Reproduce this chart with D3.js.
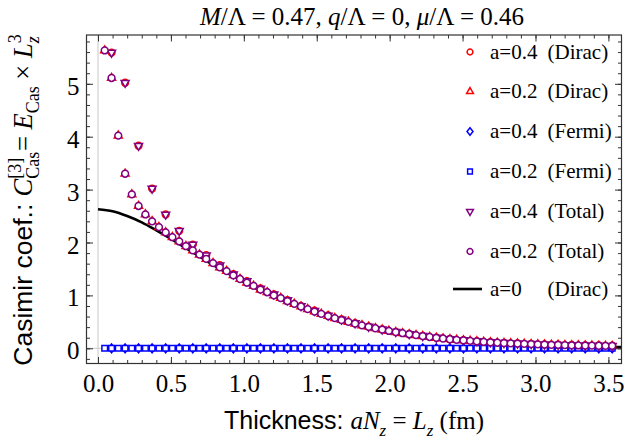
<!DOCTYPE html>
<html>
<head>
<meta charset="utf-8">
<script src="https://cdn.jsdelivr.net/npm/d3@7"></script>
<style>
  body { margin: 0; background: #fff; }
  text { white-space: pre; }
</style>
</head>
<body>
<svg id="chart" width="637" height="441"></svg>
<script>
// lattice thickness L_z = a N_z (fm)
const x02 = [0.046, 0.093, 0.139, 0.186, 0.232, 0.278, 0.325, 0.371, 0.418, 0.464,
  0.510, 0.557, 0.603, 0.650, 0.696, 0.742, 0.789, 0.835, 0.882, 0.928,
  0.974, 1.021, 1.067, 1.114, 1.160, 1.206, 1.253, 1.299, 1.346, 1.392,
  1.438, 1.485, 1.531, 1.578, 1.624, 1.670, 1.717, 1.763, 1.810, 1.856,
  1.902, 1.949, 1.995, 2.042, 2.088, 2.134, 2.181, 2.227, 2.274, 2.320,
  2.366, 2.413, 2.459, 2.506, 2.552, 2.598, 2.645, 2.691, 2.738, 2.784,
  2.830, 2.877, 2.923, 2.970, 3.016, 3.062, 3.109, 3.155, 3.202, 3.248,
  3.294, 3.341, 3.387, 3.434, 3.480, 3.526];
const x04 = [0.093, 0.186, 0.278, 0.371, 0.464, 0.557, 0.650, 0.742, 0.835, 0.928,
  1.021, 1.114, 1.206, 1.299, 1.392, 1.485, 1.578, 1.670, 1.763, 1.856,
  1.949, 2.042, 2.134, 2.227, 2.320, 2.413, 2.506, 2.598, 2.691, 2.784,
  2.877, 2.970, 3.062, 3.155, 3.248, 3.341, 3.434, 3.526];

const total02 = [5.63, 5.11, 4.02, 3.30, 2.91, 2.69, 2.53, 2.40, 2.29, 2.19,
  2.10, 2.02, 1.93, 1.85, 1.77, 1.69, 1.61, 1.53, 1.46, 1.38,
  1.31, 1.24, 1.18, 1.11, 1.06, 1.00, 0.95, 0.89, 0.84, 0.79,
  0.74, 0.695, 0.65, 0.61, 0.57, 0.534, 0.50, 0.466, 0.434, 0.406,
  0.379, 0.353, 0.328, 0.306, 0.285, 0.266, 0.248, 0.230, 0.214, 0.198,
  0.185, 0.171, 0.160, 0.149, 0.140, 0.130, 0.120, 0.112, 0.105, 0.099,
  0.093, 0.088, 0.083, 0.078, 0.074, 0.070, 0.066, 0.063, 0.060, 0.057,
  0.054, 0.052, 0.050, 0.048, 0.046, 0.044];
const total04 = [5.59, 5.02, 3.83, 3.02, 2.53, 2.22, 1.96, 1.76, 1.57, 1.40,
  1.27, 1.13, 1.02, 0.91, 0.80, 0.71, 0.62, 0.544, 0.476, 0.411,
  0.358, 0.311, 0.271, 0.235, 0.203, 0.176, 0.154, 0.135, 0.117, 0.104,
  0.093, 0.083, 0.075, 0.068, 0.062, 0.057, 0.053, 0.049];
// mu < M, so the Fermi part is zero and Dirac equals Total
const dirac02 = total02;
const dirac04 = total04;
const fermi02 = [0, 0, 0, 0, 0, 0, 0, 0, 0, 0, 0, 0, 0, 0, 0, 0, 0, 0, 0, 0,
  0, 0, 0, 0, 0, 0, 0, 0, 0, 0, 0, 0, 0, 0, 0, 0, 0, 0, 0, 0,
  0, 0, 0, 0, 0, 0, 0, 0, 0, 0, 0, 0, 0, 0, 0, 0, 0, 0, 0, 0,
  0, 0, 0, 0, 0, 0, 0, 0, 0, 0, 0, 0, 0, 0, 0, 0];
const fermi04 = [0, 0, 0, 0, 0, 0, 0, 0, 0, 0, 0, 0, 0, 0, 0, 0, 0, 0, 0, 0,
  0, 0, 0, 0, 0, 0, 0, 0, 0, 0, 0, 0, 0, 0, 0, 0, 0, 0];

// continuum a=0 curve
const lineX = [0, 0.1, 0.2, 0.3, 0.4, 0.5, 0.6, 0.7, 0.8, 0.9,
  1.0, 1.1, 1.2, 1.3, 1.4, 1.5, 1.6, 1.7, 1.8, 1.9,
  2.0, 2.1, 2.2, 2.3, 2.4, 2.5, 2.6, 2.7, 2.8, 2.9,
  3.0, 3.1, 3.2, 3.3, 3.4, 3.5, 3.6];
const lineY = [2.63, 2.59, 2.50, 2.38, 2.23, 2.07, 1.90, 1.73, 1.56, 1.40,
  1.25, 1.11, 0.99, 0.87, 0.76, 0.66, 0.57, 0.49, 0.42, 0.36,
  0.305, 0.26, 0.22, 0.185, 0.155, 0.13, 0.11, 0.09, 0.077, 0.065,
  0.055, 0.047, 0.04, 0.034, 0.029, 0.025, 0.021];

const xTicks = [0, 0.5, 1.0, 1.5, 2.0, 2.5, 3.0, 3.5];
const yTicks = [0, 1, 2, 3, 4, 5];
const legendLabels = ['a=0.4', 'a=0.2', 'a=0.4', 'a=0.2', 'a=0.4', 'a=0.2', 'a=0'];
const legendKinds = ['(Dirac)', '(Dirac)', '(Fermi)', '(Fermi)', '(Total)', '(Total)', '(Dirac)'];

const serif = "'Liberation Serif', 'Times New Roman', serif";
const sans = "'Liberation Sans', Arial, sans-serif";

const frame = { left: 86.5, right: 621.5, top: 35, bottom: 363.5 };
const x = d3.scaleLinear().domain([0, 3.5]).range([98, 608.4]);
const y = d3.scaleLinear().domain([0, 5]).range([348.3, 83.8]);

const svg = d3.select('#chart');

svg.append('defs').append('clipPath').attr('id', 'clip')
  .append('rect')
  .attr('x', frame.left).attr('y', frame.top)
  .attr('width', frame.right - frame.left).attr('height', frame.bottom - frame.top);

// axes lines through the origin
svg.append('line')
  .attr('x1', x(0)).attr('x2', x(0)).attr('y1', frame.top).attr('y2', frame.bottom)
  .attr('stroke', '#c8c8c8').attr('stroke-width', 1);
svg.append('line')
  .attr('x1', frame.left).attr('x2', frame.right).attr('y1', y(0)).attr('y2', y(0))
  .attr('stroke', '#c8c8c8').attr('stroke-width', 1);

// marker shapes
const shapes = {
  circle: r => `M${r},0A${r},${r},0,1,1,${-r},0A${r},${r},0,1,1,${r},0Z`,
  up: r => `M0,${-r}L${r * 0.87},${r * 0.5}L${-r * 0.87},${r * 0.5}Z`,
  down: r => `M0,${r}L${r * 0.87},${-r * 0.5}L${-r * 0.87},${-r * 0.5}Z`,
  diamond: r => `M0,${-r}L${r * 0.8},0L0,${r}L${-r * 0.8},0Z`,
  square: r => `M${-r},${-r}H${r}V${r}H${-r}Z`
};

const series = [
  { xs: x04, ys: dirac04, shape: 'circle', size: 3.4, color: '#ff0000' },
  { xs: x02, ys: dirac02, shape: 'up', size: 4.6, color: '#ff0000' },
  { xs: x04, ys: fermi04, shape: 'diamond', size: 4.4, color: '#0000ff' },
  { xs: x02, ys: fermi02, shape: 'square', size: 2.8, color: '#0000ff' },
  { xs: x04, ys: total04, shape: 'down', size: 4.6, color: '#800080' },
  { xs: x02, ys: total02, shape: 'circle', size: 3.4, color: '#800080' }
];

const plot = svg.append('g').attr('clip-path', 'url(#clip)');

plot.append('path')
  .datum(lineX.map((d, i) => [d, lineY[i]]))
  .attr('d', d3.line().x(d => x(d[0])).y(d => y(d[1])).curve(d3.curveMonotoneX))
  .attr('fill', 'none')
  .attr('stroke', '#000')
  .attr('stroke-width', 2.6);

series.forEach(s => {
  plot.append('g').selectAll('path')
    .data(s.xs.map((d, i) => [d, s.ys[i]]))
    .join('path')
    .attr('transform', d => `translate(${x(d[0])},${y(d[1])})`)
    .attr('d', shapes[s.shape](s.size))
    .attr('fill', '#fff')
    .attr('stroke', s.color)
    .attr('stroke-width', 1.5);
});

// frame with inward ticks on all sides
const xMinor = d3.range(0, 36).map(i => i / 10);
const yMinor = d3.range(-1, 30).map(i => i / 5);

function styleAxis(g) {
  g.select('.domain').remove();
  g.selectAll('line').attr('stroke', '#333');
  g.selectAll('text')
    .style('font-family', serif)
    .style('font-size', '25px')
    .attr('fill', '#000');
}

svg.append('g').attr('transform', `translate(0,${frame.bottom})`)
  .call(d3.axisBottom(x).tickValues(xTicks).tickSize(-6.5).tickPadding(11).tickFormat(d3.format('.1f')))
  .call(styleAxis);
svg.append('g').attr('transform', `translate(0,${frame.bottom})`)
  .call(d3.axisBottom(x).tickValues(xMinor).tickSize(-3.5).tickFormat(''))
  .call(styleAxis);
svg.append('g').attr('transform', `translate(0,${frame.top})`)
  .call(d3.axisTop(x).tickValues(xTicks).tickSize(-6.5).tickFormat(''))
  .call(styleAxis);
svg.append('g').attr('transform', `translate(0,${frame.top})`)
  .call(d3.axisTop(x).tickValues(xMinor).tickSize(-3.5).tickFormat(''))
  .call(styleAxis);

svg.append('g').attr('transform', `translate(${frame.left},0)`)
  .call(d3.axisLeft(y).tickValues(yTicks).tickSize(-6.5).tickPadding(7).tickFormat(d3.format('d')))
  .call(styleAxis)
  .selectAll('text').attr('dy', '0.42em');
svg.append('g').attr('transform', `translate(${frame.left},0)`)
  .call(d3.axisLeft(y).tickValues(yMinor).tickSize(-3.5).tickFormat(''))
  .call(styleAxis);
svg.append('g').attr('transform', `translate(${frame.right},0)`)
  .call(d3.axisRight(y).tickValues(yTicks).tickSize(-6.5).tickFormat(''))
  .call(styleAxis);
svg.append('g').attr('transform', `translate(${frame.right},0)`)
  .call(d3.axisRight(y).tickValues(yMinor).tickSize(-3.5).tickFormat(''))
  .call(styleAxis);

svg.append('rect')
  .attr('x', frame.left).attr('y', frame.top)
  .attr('width', frame.right - frame.left).attr('height', frame.bottom - frame.top)
  .attr('fill', 'none').attr('stroke', '#333').attr('stroke-width', 1.2);

// rich text with sub/superscripts
function rich(textSel, parts, size) {
  let shift = 0;
  let prevWidth = 0;
  parts.forEach(p => {
    const fs = (p.sub || p.sup) ? size * 0.68 : size;
    const target = p.sub ? size * 0.26 : p.sup ? -size * 0.4 : 0;
    const ts = textSel.append('tspan')
      .style('font-family', p.sans ? sans : serif)
      .style('font-style', p.it ? 'italic' : 'normal')
      .style('font-size', fs + 'px')
      .attr('dy', target - shift)
      .text(p.t);
    if (p.back) ts.attr('dx', -prevWidth);
    shift = target;
    prevWidth = ts.node().getComputedTextLength();
  });
}

// title
rich(svg.append('text').attr('x', 362).attr('y', 25).attr('text-anchor', 'middle'), [
  { t: 'M', it: true }, { t: '/\u039B = 0.47, ' },
  { t: 'q', it: true }, { t: '/\u039B = 0, ' },
  { t: '\u03BC', it: true }, { t: '/\u039B = 0.46' }
], 25);

// x axis title
rich(svg.append('text').attr('x', 354).attr('y', 429).attr('text-anchor', 'middle'), [
  { t: 'Thickness: ', sans: true },
  { t: 'aN', it: true }, { t: 'z', it: true, sub: true },
  { t: ' = ' },
  { t: 'L', it: true }, { t: 'z', it: true, sub: true },
  { t: ' (fm)' }
], 25);

// y axis title
rich(svg.append('text').attr('transform', 'translate(32,200) rotate(-90)').attr('text-anchor', 'middle'), [
  { t: 'Casimir coef.: ', sans: true },
  { t: 'C', it: true }, { t: 'Cas', sub: true }, { t: '[3]', sup: true, back: true },
  { t: ' = ' },
  { t: 'E', it: true }, { t: 'Cas', sub: true },
  { t: ' \u00D7 ' },
  { t: 'L', it: true }, { t: 'z', it: true, sub: true }, { t: '3', sup: true, back: true }
], 26.5);

// legend
const legendY = [52, 91.5, 131.5, 171.5, 211.5, 251.5, 289];
const legend = svg.append('g');
legendLabels.forEach((lab, i) => {
  const row = legend.append('g').attr('transform', `translate(0,${legendY[i]})`);
  if (i < series.length) {
    const s = series[i];
    row.append('path')
      .attr('transform', 'translate(470,0)')
      .attr('d', shapes[s.shape](s.size * 0.85))
      .attr('fill', '#fff').attr('stroke', s.color).attr('stroke-width', 1.5);
  } else {
    row.append('line').attr('x1', 453).attr('x2', 482)
      .attr('stroke', '#000').attr('stroke-width', 2.6);
  }
  row.append('text').attr('x', 490).attr('dy', '0.33em')
    .style('font-family', serif).style('font-size', '21px').text(lab);
  row.append('text').attr('x', 547.5).attr('dy', '0.33em')
    .style('font-family', serif).style('font-size', '21px').text(legendKinds[i]);
});
</script>
</body>
</html>
